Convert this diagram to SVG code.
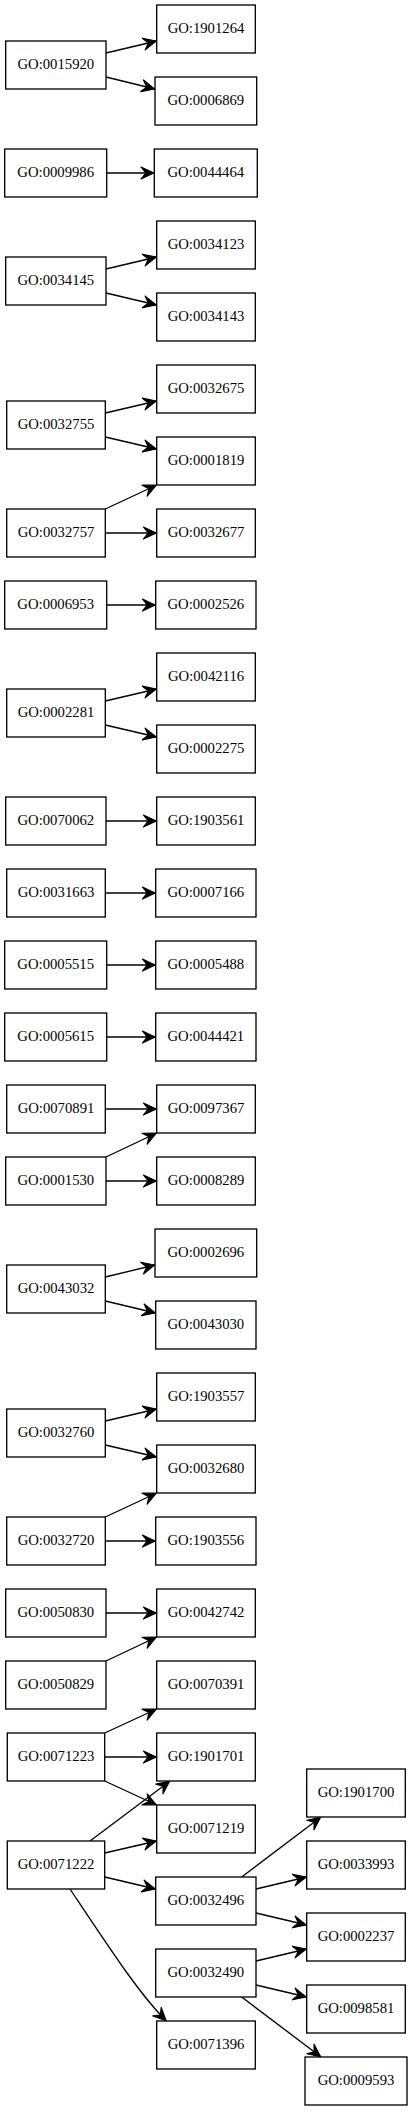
<svg xmlns="http://www.w3.org/2000/svg" width="412" height="2111" viewBox="0 0 412 2111">
<style>
.node rect{fill:#fff;stroke:#000;stroke-width:1.33}
.node text{font-family:"Liberation Serif","Times New Roman",serif;font-size:14.7px;text-anchor:middle;fill:#000}
.edge{fill:none;stroke:#000;stroke-width:1.33;marker-end:url(#arr)}
</style>
<defs>
<marker id="arr" markerUnits="userSpaceOnUse" viewBox="-15 -8 16 16" refX="0" refY="0" markerWidth="16" markerHeight="16" orient="auto" overflow="visible">
<path d="M-0.5,0 L-13.3,-6 L-8.5,0 L-13.3,6 Z" fill="#000" stroke="#000" stroke-width="1.2" stroke-linejoin="round"/>
</marker>
</defs>
<rect width="412" height="2111" fill="#fff"/>
<g id="edges">
<path class="edge" d="M106,53 L156.7,41"/>
<path class="edge" d="M106,77 L155,89"/>
<path class="edge" d="M106.7,173 L154.3,173"/>
<path class="edge" d="M106,269 L156.7,257"/>
<path class="edge" d="M106,293 L156.7,305"/>
<path class="edge" d="M105.3,413 L156.7,401"/>
<path class="edge" d="M105.3,437 L156.7,449"/>
<path class="edge" d="M105.3,509 L156.7,485"/>
<path class="edge" d="M105.3,533 L156.7,533"/>
<path class="edge" d="M106.7,605 L155.7,605"/>
<path class="edge" d="M105.3,701 L156.7,689"/>
<path class="edge" d="M105.3,725 L156.7,737"/>
<path class="edge" d="M106,821 L156.7,821"/>
<path class="edge" d="M105.3,893 L155.7,893"/>
<path class="edge" d="M106.7,965 L155.7,965"/>
<path class="edge" d="M106.7,1037 L155.7,1037"/>
<path class="edge" d="M105.3,1109 L156.7,1109"/>
<path class="edge" d="M106,1157 L156.7,1133"/>
<path class="edge" d="M106,1181 L156.7,1181"/>
<path class="edge" d="M105.3,1277 L155,1265"/>
<path class="edge" d="M105.3,1301 L155.7,1313"/>
<path class="edge" d="M105.3,1421 L156.7,1409"/>
<path class="edge" d="M105.3,1445 L156.7,1457"/>
<path class="edge" d="M105.3,1517 L156.7,1493"/>
<path class="edge" d="M105.3,1541 L155.7,1541"/>
<path class="edge" d="M106,1613 L156.7,1613"/>
<path class="edge" d="M106,1661 L156.7,1637"/>
<path class="edge" d="M104.7,1733 L156.7,1709"/>
<path class="edge" d="M104.7,1757 L156.7,1757"/>
<path class="edge" d="M104.7,1781 L156.7,1805"/>
<path class="edge" d="M90,1841 L170,1781"/>
<path class="edge" d="M104.7,1853 L156.7,1841"/>
<path class="edge" d="M104.7,1877 L155.7,1889"/>
<path class="edge" d="M70,1889 C110,1949 140,1995 166.5,2021"/>
<path class="edge" d="M241.7,1877 L321,1817"/>
<path class="edge" d="M256,1889 L306.7,1877"/>
<path class="edge" d="M256,1913 L306.7,1925"/>
<path class="edge" d="M256,1961 L306.7,1949"/>
<path class="edge" d="M256,1985 L306.7,1997"/>
<path class="edge" d="M241.7,1997 L321,2057"/>
</g>
<g id="GO_1901264" class="node"><rect x="156.7" y="5" width="98.6" height="48"/><text x="206" y="33">GO:1901264</text></g>
<g id="GO_0015920" class="node"><rect x="5.7" y="41" width="100.3" height="48"/><text x="55.85" y="69">GO:0015920</text></g>
<g id="GO_0006869" class="node"><rect x="155" y="77" width="101.7" height="48"/><text x="205.85" y="105">GO:0006869</text></g>
<g id="GO_0009986" class="node"><rect x="4.7" y="149" width="102" height="48"/><text x="55.7" y="177">GO:0009986</text></g>
<g id="GO_0044464" class="node"><rect x="154.3" y="149" width="103" height="48"/><text x="205.8" y="177">GO:0044464</text></g>
<g id="GO_0034123" class="node"><rect x="156.7" y="221" width="98.6" height="48"/><text x="206" y="249">GO:0034123</text></g>
<g id="GO_0034145" class="node"><rect x="5.7" y="257" width="100.3" height="48"/><text x="55.85" y="285">GO:0034145</text></g>
<g id="GO_0034143" class="node"><rect x="156.7" y="293" width="98.6" height="48"/><text x="206" y="321">GO:0034143</text></g>
<g id="GO_0032675" class="node"><rect x="156.7" y="365" width="98.6" height="48"/><text x="206" y="393">GO:0032675</text></g>
<g id="GO_0032755" class="node"><rect x="6.7" y="401" width="98.6" height="48"/><text x="56" y="429">GO:0032755</text></g>
<g id="GO_0001819" class="node"><rect x="156.7" y="437" width="98.6" height="48"/><text x="206" y="465">GO:0001819</text></g>
<g id="GO_0032757" class="node"><rect x="6.7" y="509" width="98.6" height="48"/><text x="56" y="537">GO:0032757</text></g>
<g id="GO_0032677" class="node"><rect x="156.7" y="509" width="98.6" height="48"/><text x="206" y="537">GO:0032677</text></g>
<g id="GO_0006953" class="node"><rect x="4.7" y="581" width="102" height="48"/><text x="55.7" y="609">GO:0006953</text></g>
<g id="GO_0002526" class="node"><rect x="155.7" y="581" width="100.3" height="48"/><text x="205.85" y="609">GO:0002526</text></g>
<g id="GO_0042116" class="node"><rect x="156.7" y="653" width="98.6" height="48"/><text x="206" y="681">GO:0042116</text></g>
<g id="GO_0002281" class="node"><rect x="6.7" y="689" width="98.6" height="48"/><text x="56" y="717">GO:0002281</text></g>
<g id="GO_0002275" class="node"><rect x="156.7" y="725" width="98.6" height="48"/><text x="206" y="753">GO:0002275</text></g>
<g id="GO_0070062" class="node"><rect x="5.7" y="797" width="100.3" height="48"/><text x="55.85" y="825">GO:0070062</text></g>
<g id="GO_1903561" class="node"><rect x="156.7" y="797" width="98.6" height="48"/><text x="206" y="825">GO:1903561</text></g>
<g id="GO_0031663" class="node"><rect x="6.7" y="869" width="98.6" height="48"/><text x="56" y="897">GO:0031663</text></g>
<g id="GO_0007166" class="node"><rect x="155.7" y="869" width="100.3" height="48"/><text x="205.85" y="897">GO:0007166</text></g>
<g id="GO_0005515" class="node"><rect x="4.7" y="941" width="102" height="48"/><text x="55.7" y="969">GO:0005515</text></g>
<g id="GO_0005488" class="node"><rect x="155.7" y="941" width="100.3" height="48"/><text x="205.85" y="969">GO:0005488</text></g>
<g id="GO_0005615" class="node"><rect x="4.7" y="1013" width="102" height="48"/><text x="55.7" y="1041">GO:0005615</text></g>
<g id="GO_0044421" class="node"><rect x="155.7" y="1013" width="100.3" height="48"/><text x="205.85" y="1041">GO:0044421</text></g>
<g id="GO_0070891" class="node"><rect x="6.7" y="1085" width="98.6" height="48"/><text x="56" y="1113">GO:0070891</text></g>
<g id="GO_0097367" class="node"><rect x="156.7" y="1085" width="98.6" height="48"/><text x="206" y="1113">GO:0097367</text></g>
<g id="GO_0001530" class="node"><rect x="5.7" y="1157" width="100.3" height="48"/><text x="55.85" y="1185">GO:0001530</text></g>
<g id="GO_0008289" class="node"><rect x="156.7" y="1157" width="98.6" height="48"/><text x="206" y="1185">GO:0008289</text></g>
<g id="GO_0002696" class="node"><rect x="155" y="1229" width="101.7" height="48"/><text x="205.85" y="1257">GO:0002696</text></g>
<g id="GO_0043032" class="node"><rect x="6.7" y="1265" width="98.6" height="48"/><text x="56" y="1293">GO:0043032</text></g>
<g id="GO_0043030" class="node"><rect x="155.7" y="1301" width="100.3" height="48"/><text x="205.85" y="1329">GO:0043030</text></g>
<g id="GO_1903557" class="node"><rect x="156.7" y="1373" width="98.6" height="48"/><text x="206" y="1401">GO:1903557</text></g>
<g id="GO_0032760" class="node"><rect x="6.7" y="1409" width="98.6" height="48"/><text x="56" y="1437">GO:0032760</text></g>
<g id="GO_0032680" class="node"><rect x="156.7" y="1445" width="98.6" height="48"/><text x="206" y="1473">GO:0032680</text></g>
<g id="GO_0032720" class="node"><rect x="6.7" y="1517" width="98.6" height="48"/><text x="56" y="1545">GO:0032720</text></g>
<g id="GO_1903556" class="node"><rect x="155.7" y="1517" width="100.3" height="48"/><text x="205.85" y="1545">GO:1903556</text></g>
<g id="GO_0050830" class="node"><rect x="5.7" y="1589" width="100.3" height="48"/><text x="55.85" y="1617">GO:0050830</text></g>
<g id="GO_0042742" class="node"><rect x="156.7" y="1589" width="98.6" height="48"/><text x="206" y="1617">GO:0042742</text></g>
<g id="GO_0050829" class="node"><rect x="5.7" y="1661" width="100.3" height="48"/><text x="55.85" y="1689">GO:0050829</text></g>
<g id="GO_0070391" class="node"><rect x="156.7" y="1661" width="98.6" height="48"/><text x="206" y="1689">GO:0070391</text></g>
<g id="GO_0071223" class="node"><rect x="7.3" y="1733" width="97.4" height="48"/><text x="56" y="1761">GO:0071223</text></g>
<g id="GO_1901701" class="node"><rect x="156.7" y="1733" width="98.6" height="48"/><text x="206" y="1761">GO:1901701</text></g>
<g id="GO_1901700" class="node"><rect x="306.7" y="1769" width="98.6" height="48"/><text x="356" y="1797">GO:1901700</text></g>
<g id="GO_0071219" class="node"><rect x="156.7" y="1805" width="98.6" height="48"/><text x="206" y="1833">GO:0071219</text></g>
<g id="GO_0071222" class="node"><rect x="7.3" y="1841" width="97.4" height="48"/><text x="56" y="1869">GO:0071222</text></g>
<g id="GO_0033993" class="node"><rect x="306.7" y="1841" width="98.6" height="48"/><text x="356" y="1869">GO:0033993</text></g>
<g id="GO_0032496" class="node"><rect x="155.7" y="1877" width="100.3" height="48"/><text x="205.85" y="1905">GO:0032496</text></g>
<g id="GO_0002237" class="node"><rect x="306.7" y="1913" width="98.6" height="48"/><text x="356" y="1941">GO:0002237</text></g>
<g id="GO_0032490" class="node"><rect x="155.7" y="1949" width="100.3" height="48"/><text x="205.85" y="1977">GO:0032490</text></g>
<g id="GO_0098581" class="node"><rect x="306.7" y="1985" width="98.6" height="48"/><text x="356" y="2013">GO:0098581</text></g>
<g id="GO_0071396" class="node"><rect x="156.7" y="2021" width="98.6" height="48"/><text x="206" y="2049">GO:0071396</text></g>
<g id="GO_0009593" class="node"><rect x="305" y="2057" width="102" height="48"/><text x="356" y="2085">GO:0009593</text></g>
</svg>
